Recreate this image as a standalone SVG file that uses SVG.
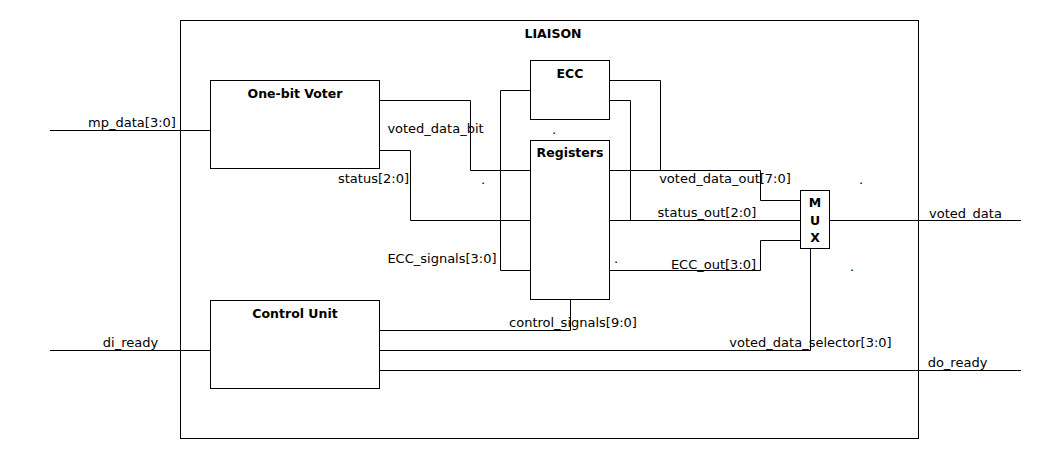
<svg xmlns="http://www.w3.org/2000/svg" width="1060" height="460" viewBox="0 0 1060 460">
<style>
.box{fill:#fff;stroke:#000;stroke-width:1}
.w{fill:none;stroke:#000;stroke-width:1}
.t{font-family:"DejaVu Sans","Liberation Sans",sans-serif;font-size:13px;fill:#000;text-anchor:middle}
.b{font-family:"DejaVu Sans","Liberation Sans",sans-serif;font-size:12.5px;font-weight:bold;fill:#000;text-anchor:middle}
</style>
<rect width="1060" height="460" fill="#fff"/>
<g id="liaison">
<rect class="box" x="180.5" y="20.5" width="738" height="418"/>
<text class="b" x="553" y="38">LIAISON</text>
</g>
<g id="connectors">
<polyline class="w" points="50,130.5 210,130.5"/>
<polyline class="w" points="50,350.5 210,350.5"/>
<polyline class="w" points="379,100.5 470.5,100.5 470.5,170.5 530,170.5"/>
<polyline class="w" points="379,150.5 410.5,150.5 410.5,220.5 530,220.5"/>
<polyline class="w" points="530,270.5 500.5,270.5 500.5,90.5 530,90.5"/>
<polyline class="w" points="379,330.5 570.5,330.5 570.5,299"/>
<polyline class="w" points="609,80.5 660.5,80.5 660.5,170.5"/>
<polyline class="w" points="609,100.5 630.5,100.5 630.5,220.5"/>
<polyline class="w" points="609,170.5 760.5,170.5 760.5,200.5 800,200.5"/>
<polyline class="w" points="609,220.5 800,220.5"/>
<polyline class="w" points="609,270.5 760.5,270.5 760.5,240.5 800,240.5"/>
<polyline class="w" points="829,220.5 1021,220.5"/>
<polyline class="w" points="810.5,249 810.5,350.5 379,350.5"/>
<polyline class="w" points="379,370.5 1021,370.5"/>
<text class="t" x="132" y="127">mp_data[3:0]</text>
<text class="t" x="130.5" y="347">di_ready</text>
<text class="t" x="435.5" y="133">voted_data_bit</text>
<text class="t" x="373.5" y="183">status[2:0]</text>
<text class="t" x="442" y="263">ECC_signals[3:0]</text>
<text class="t" x="573" y="327">control_signals[9:0]</text>
<text class="t" x="725" y="183">voted_data_out[7:0]</text>
<text class="t" x="707" y="217">status_out[2:0]</text>
<text class="t" x="713.5" y="269">ECC_out[3:0]</text>
<text class="t" x="965.5" y="218">voted_data</text>
<text class="t" x="810.5" y="347">voted_data_selector[3:0]</text>
<text class="t" x="957.5" y="367">do_ready</text>
<text class="t" x="554" y="134">.</text>
<text class="t" x="483" y="184">.</text>
<text class="t" x="616" y="263">.</text>
<text class="t" x="861" y="184">.</text>
<text class="t" x="852" y="271">.</text>
</g>
<g id="voter">
<rect class="box" x="210.5" y="80.5" width="169" height="88"/>
<text class="b" x="295" y="98">One-bit Voter</text>
</g>
<g id="control">
<rect class="box" x="210.5" y="300.5" width="169" height="88"/>
<text class="b" x="295" y="318">Control Unit</text>
</g>
<g id="ecc">
<rect class="box" x="530.5" y="60.5" width="79" height="59"/>
<text class="b" x="570" y="78">ECC</text>
</g>
<g id="registers">
<rect class="box" x="530.5" y="140.5" width="79" height="159"/>
<text class="b" x="570" y="157">Registers</text>
</g>
<g id="mux">
<rect class="box" x="800.5" y="190.5" width="29" height="58"/>
<text class="b" x="815" y="207">M</text>
<text class="b" x="815" y="225">U</text>
<text class="b" x="815" y="242">X</text>
</g>
</svg>
